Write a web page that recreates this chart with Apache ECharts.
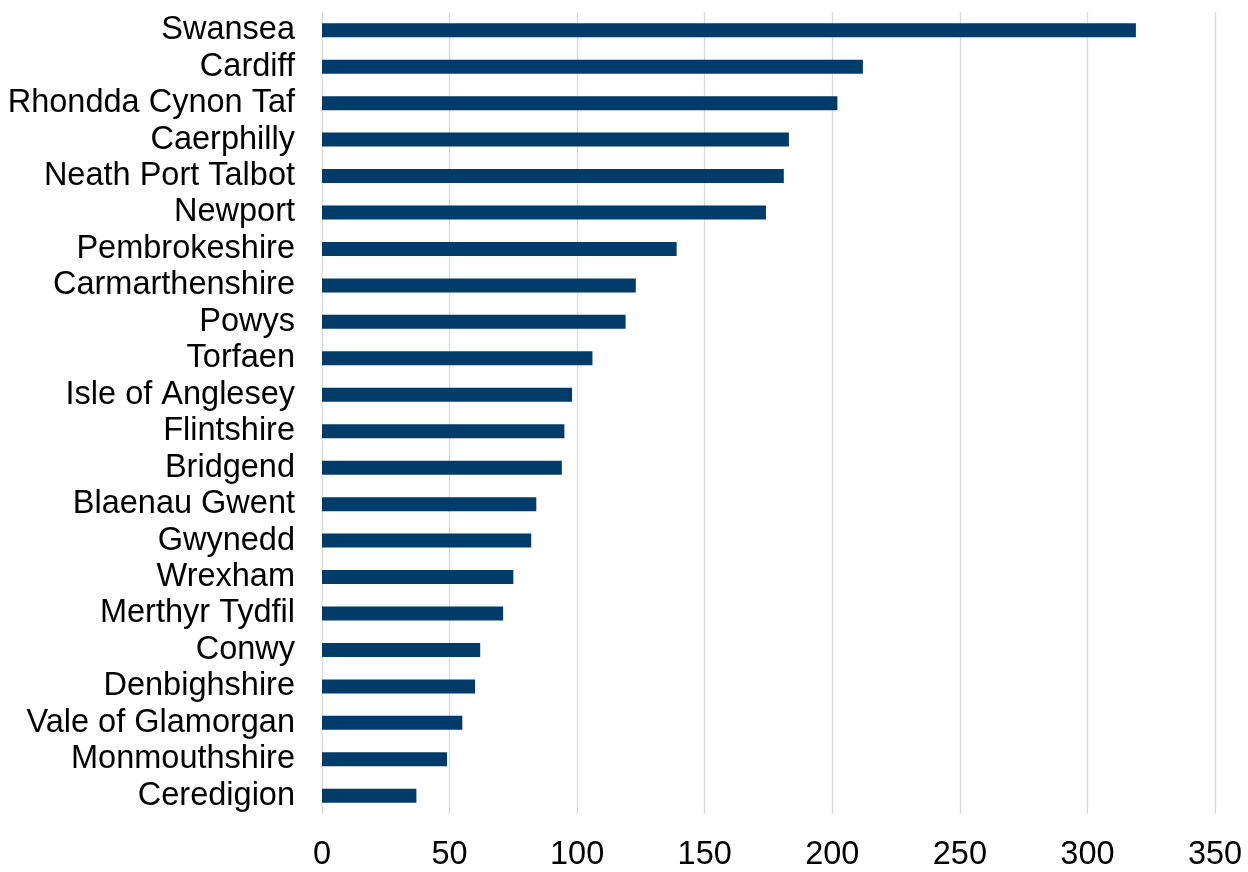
<!DOCTYPE html>
<html><head><meta charset="utf-8">
<script src="https://cdn.jsdelivr.net/npm/echarts@6/dist/echarts.min.js"></script>
<style>html,body{margin:0;padding:0;background:#fff}#c{width:1248px;height:872px}</style>
</head><body><div id="c"></div>
<script>
const categories = ["Swansea","Cardiff","Rhondda Cynon Taf","Caerphilly","Neath Port Talbot","Newport","Pembrokeshire","Carmarthenshire","Powys","Torfaen","Isle of Anglesey","Flintshire","Bridgend","Blaenau Gwent","Gwynedd","Wrexham","Merthyr Tydfil","Conwy","Denbighshire","Vale of Glamorgan","Monmouthshire","Ceredigion"];
const values = [319,212,202,183,181,174,139,123,119,106,98,95,94,84,82,75,71,62,60,55,49,37];
const chart = echarts.init(document.getElementById('c'));
chart.setOption({
  animation:false,
  grid:{left:322,right:33,top:12,bottom:52,containLabel:false},
  xAxis:{type:'value',min:0,max:350,interval:50,
    axisLine:{show:false},axisTick:{show:false},
    axisLabel:{fontFamily:'Liberation Sans, Arial',fontSize:32.5,color:'#000',margin:25},
    splitLine:{show:true,lineStyle:{color:'#d9d9d9',width:1.3}}},
  yAxis:{type:'category',data:categories,inverse:true,
    axisLine:{show:false},axisTick:{show:false},
    axisLabel:{interval:0,fontFamily:'Liberation Sans, Arial',fontSize:32.5,lineHeight:32,color:'#000',margin:27}},
  series:[{type:'bar',data:values,barWidth:14,itemStyle:{color:'#003b6a'}}]
});
</script></body></html>
